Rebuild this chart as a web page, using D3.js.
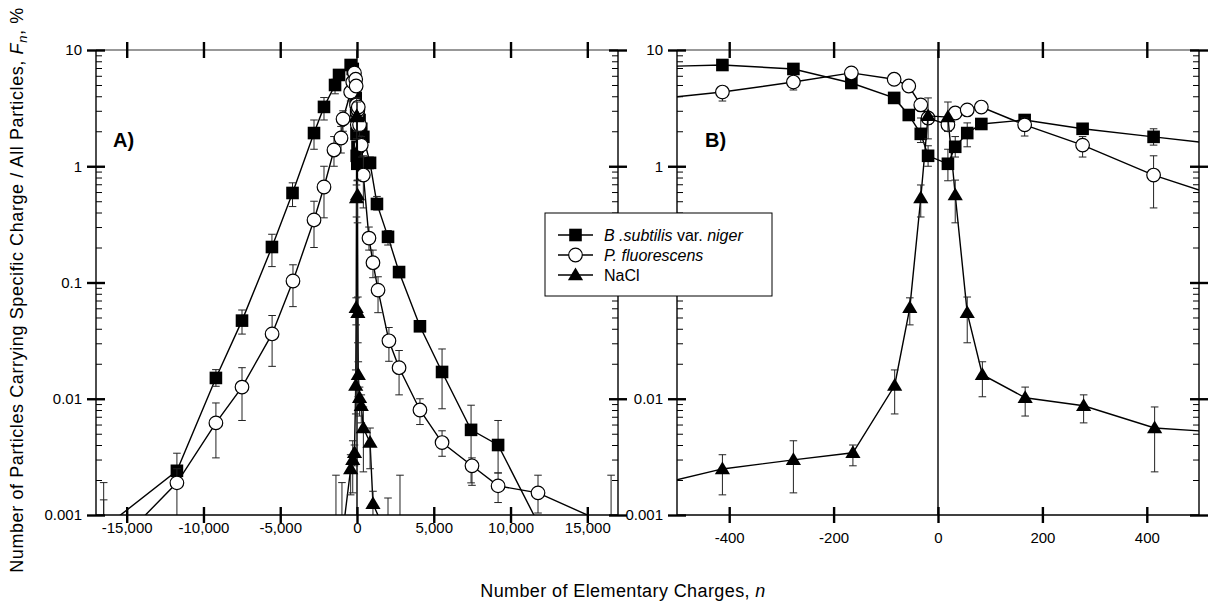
<!DOCTYPE html>
<html><head><meta charset="utf-8">
<script src="https://cdn.jsdelivr.net/npm/d3@7"></script>
<style>
body{margin:0;background:#fff}
svg{display:block}
text{font-family:"Liberation Sans",Arial,Helvetica,sans-serif;fill:#000}
</style>
</head><body>
<svg id="c" width="1211" height="605"></svg>
<script>
// ---------- data (n = number of elementary charges, F = % of particles) ----------
const bsN  = [-16500,-11730,-9190,-7490,-5540,-4200,-2800,-2150,-1430,-1170,-413,-277,-166,-84,-56,-33,-19,19,33,56,83,166,277,413,850,1300,2020,2740,4100,5540,7430,9190,16550];
const bsF  = [0.00077,0.0024,0.0151,0.047,0.202,0.589,1.93,3.24,5.0,6.1,7.43,6.87,5.2,3.87,2.76,1.90,1.23,1.05,1.47,1.93,2.31,2.50,2.10,1.79,1.07,0.474,0.247,0.123,0.042,0.017,0.0054,0.0040,0.00005];
const bsLo = [0.0001,0.0017,0.0128,0.036,0.137,0.45,1.40,2.5,4.2,5.5,7.0,6.3,4.9,3.5,2.5,1.6,1.0,0.75,1.2,1.47,2.1,2.3,1.9,1.52,0.95,0.42,0.21,0.11,0.038,0.0082,0.00189,0.0023,0.00001];
const bsHi = [0.0019,0.0034,0.0178,0.058,0.26,0.72,2.5,3.9,5.6,6.6,7.9,7.3,5.6,4.2,3.0,2.6,1.5,1.4,1.8,2.36,2.5,2.6,2.3,2.1,1.2,0.55,0.28,0.135,0.046,0.0268,0.0088,0.0065,0.00003];

const pfN  = [-16500,-11730,-9190,-7490,-5530,-4170,-2800,-2150,-1500,-1040,-910,-413,-277,-166,-84,-56,-33,-19,19,33,56,83,166,277,413,780,1040,1370,2080,2740,4100,5540,7490,9190,11790,16550];
const pfF  = [0.00043,0.00189,0.0062,0.0126,0.0361,0.103,0.345,0.663,1.38,1.75,2.55,4.35,5.3,6.35,5.6,4.9,3.37,2.6,2.27,2.87,3.05,3.23,2.27,1.52,0.84,0.241,0.148,0.086,0.0315,0.0185,0.0080,0.0042,0.00265,0.00178,0.00155,0.00081];
const pfLo = [0.0001,0.0009,0.0031,0.0065,0.019,0.062,0.2,0.36,1.0,1.3,2.0,3.64,4.53,6.0,5.2,4.5,3.0,2.3,2.0,2.6,2.8,3.0,1.82,1.2,0.438,0.19,0.11,0.055,0.021,0.0108,0.006,0.0032,0.0018,0.00128,0.00104,0.0001];
const pfHi = [0.00135,0.0025,0.0092,0.0185,0.052,0.142,0.5,1.0,1.8,2.2,3.0,4.7,5.8,6.7,6.0,5.3,3.7,2.9,2.5,3.1,3.3,3.45,2.6,1.8,1.23,0.3,0.19,0.112,0.041,0.026,0.010,0.0053,0.0031,0.0023,0.0022,0.0022];

const naN  = [-1370,-980,-413,-277,-163,-83,-54,-33,-19,19,33,56,85,167,279,415,850,1040,2020,2800];
const naF  = [0.0002,0.00062,0.00249,0.00298,0.00343,0.0130,0.0605,0.533,2.71,2.65,0.566,0.0548,0.0161,0.0102,0.0087,0.0056,0.0042,0.00125,0.00063,0.0003];
const naLo = [0.00005,0.0002,0.00149,0.00155,0.00265,0.0074,0.0432,0.366,1.72,2.0,0.326,0.0303,0.0104,0.0071,0.0062,0.00235,0.0025,0.0009,0.0002,0.0001];
const naHi = [0.0022,0.0019,0.0033,0.00435,0.0040,0.0177,0.0738,0.69,3.87,3.57,0.76,0.075,0.0208,0.0126,0.0108,0.0085,0.0056,0.0016,0.0014,0.0022];

const xDomainA = [-17000, 17000];
const xDomainB = [-500, 500];
const xTicksA = [-15000,-10000,-5000,0,5000,10000,15000];
const xTicksB = [-400,-200,0,200,400];
const yTicks = [10,1,0.1,0.01,0.001];
const yTickLabels = ["10","1","0.1","0.01","0.001"];
const yMinorMantissa = [2,3,4,5,6,7,8,9];
const seriesNames = ["B .subtilis var. niger","P. fluorescens","NaCl"];

// ---------- chart ----------
const svg = d3.select("#c");
const TOP = 50, BOT = 515;
const yS = d3.scaleLog().domain([0.001,10]).range([BOT,TOP]);
const fmt = d3.formatLocale({decimal:".",thousands:",",grouping:[3],currency:["$",""],minus:"-"}).format(",");

const minorVals = [];
for (let e=-3;e<1;e++) yMinorMantissa.forEach(m=>minorVals.push(m*Math.pow(10,e)));

const panels = [
  {id:"A", x:d3.scaleLinear().domain(xDomainA).range([96,618]), ticks:xTicksA, lblY:18, label:"A)", lx:113},
  {id:"B", x:d3.scaleLinear().domain(xDomainB).range([677,1199]), ticks:xTicksB, lblY:28, label:"B)", lx:705}
];
const series = [
  {n:bsN,f:bsF,lo:bsLo,hi:bsHi,shape:"square"},
  {n:pfN,f:pfF,lo:pfLo,hi:pfHi,shape:"circle"},
  {n:naN,f:naF,lo:naLo,hi:naHi,shape:"triangle"}
];

function marker(g, shape, cx, cy){
  if (shape==="square") g.append("rect").attr("x",cx-6.3).attr("y",cy-6.3).attr("width",12.6).attr("height",12.6).attr("fill","#000");
  else if (shape==="circle") g.append("circle").attr("cx",cx).attr("cy",cy).attr("r",6.8).attr("fill","#fff").attr("stroke","#000").attr("stroke-width",1.2);
  else g.append("path").attr("d",`M${cx},${cy-7.5}L${cx+7.6},${cy+5.2}L${cx-7.6},${cy+5.2}Z`).attr("fill","#000");
}

panels.forEach(p=>{
  const [x0,x1] = p.x.range();
  const clipId = "clip"+p.id;
  svg.append("clipPath").attr("id",clipId).append("rect").attr("x",x0).attr("y",TOP).attr("width",x1-x0).attr("height",BOT-TOP);
  const g = svg.append("g").attr("clip-path",`url(#${clipId})`);
  // zero line
  g.append("line").attr("x1",p.x(0)).attr("x2",p.x(0)).attr("y1",TOP).attr("y2",BOT).attr("stroke","#000").attr("stroke-width",1.4);
  series.forEach(s=>{
    const idx = d3.range(s.n.length);
    g.append("path").datum(idx)
      .attr("d", d3.line().x(i=>p.x(s.n[i])).y(i=>yS(s.f[i])))
      .attr("fill","none").attr("stroke","#000").attr("stroke-width",1.4);
    idx.forEach(i=>{
      const cx = p.x(s.n[i]);
      const ylo = yS(s.lo[i]), yhi = yS(s.hi[i]);
      g.append("line").attr("x1",cx).attr("x2",cx).attr("y1",ylo).attr("y2",yhi).attr("stroke","#222").attr("stroke-width",1);
      [ylo,yhi].forEach(yy=>g.append("line").attr("x1",cx-3.8).attr("x2",cx+3.8).attr("y1",yy).attr("y2",yy).attr("stroke","#222").attr("stroke-width",1));
    });
    idx.forEach(i=>marker(g, s.shape, p.x(s.n[i]), yS(s.f[i])));
  });

  // frame
  svg.append("line").attr("x1",x0).attr("x2",x1).attr("y1",TOP).attr("y2",TOP).attr("stroke","#333").attr("stroke-width",1.1);
  svg.append("line").attr("x1",x0).attr("x2",x1).attr("y1",BOT).attr("y2",BOT).attr("stroke","#000").attr("stroke-width",1.4);
  svg.append("line").attr("x1",x0).attr("x2",x0).attr("y1",TOP).attr("y2",BOT).attr("stroke","#000").attr("stroke-width",1.4);
  svg.append("line").attr("x1",x1).attr("x2",x1).attr("y1",TOP).attr("y2",BOT).attr("stroke","#000").attr("stroke-width",1.4);

  // bottom axis
  const gb = svg.append("g").attr("transform",`translate(0,${BOT})`)
    .call(d3.axisBottom(p.x).tickValues(p.ticks).tickFormat(fmt).tickSize(8).tickSizeOuter(0));
  gb.select(".domain").remove();
  gb.selectAll(".tick line").attr("y1",-8).attr("y2",8).attr("stroke","#000").attr("stroke-width",2.4);
  gb.selectAll("text").attr("dy",null).attr("y",p.lblY).attr("font-size",15).attr("font-family",null);
  // top axis
  const gt = svg.append("g").attr("transform",`translate(0,${TOP})`)
    .call(d3.axisTop(p.x).tickValues(p.ticks).tickFormat("").tickSize(8).tickSizeOuter(0));
  gt.select(".domain").remove();
  gt.selectAll(".tick line").attr("y1",-8).attr("y2",8).attr("stroke","#000").attr("stroke-width",2.4);

  // left axis with labels
  const gl = svg.append("g").attr("transform",`translate(${x0},0)`)
    .call(d3.axisLeft(yS).tickValues(yTicks).tickFormat((d,i)=>yTickLabels[i]).tickSize(9).tickPadding(5).tickSizeOuter(0));
  gl.select(".domain").remove();
  gl.selectAll(".tick line").attr("x1",9).attr("x2",-9).attr("stroke","#000").attr("stroke-width",2.4);
  gl.selectAll("text").attr("font-size",15).attr("font-family",null);
  const glm = svg.append("g").attr("transform",`translate(${x0},0)`)
    .call(d3.axisRight(yS).tickValues(minorVals).tickFormat("").tickSize(6).tickSizeOuter(0));
  glm.select(".domain").remove();
  glm.selectAll(".tick line").attr("stroke","#000").attr("stroke-width",1);
  // right axis
  const gr = svg.append("g").attr("transform",`translate(${x1},0)`)
    .call(d3.axisRight(yS).tickValues(yTicks).tickFormat("").tickSize(9).tickSizeOuter(0));
  gr.select(".domain").remove();
  gr.selectAll(".tick line").attr("x1",-9).attr("x2",9).attr("stroke","#000").attr("stroke-width",2.4);
  const grm = svg.append("g").attr("transform",`translate(${x1},0)`)
    .call(d3.axisLeft(yS).tickValues(minorVals).tickFormat("").tickSize(6).tickSizeOuter(0));
  grm.select(".domain").remove();
  grm.selectAll(".tick line").attr("stroke","#000").attr("stroke-width",1);

  svg.append("text").attr("x",p.lx).attr("y",147).attr("font-size",20).attr("font-weight","bold").text(p.label);
});

// axis titles
const yt = svg.append("text").attr("transform","translate(23,290) rotate(-90)").attr("text-anchor","middle")
  .attr("font-size",18).attr("letter-spacing",0.6).style("white-space","pre");
yt.append("tspan").text("Number of Particles Carrying Specific Charge / All Particles, ");
yt.append("tspan").attr("font-style","italic").text("F");
yt.append("tspan").attr("font-style","italic").attr("font-size",13).attr("dy",4).text("n");
yt.append("tspan").attr("dy",-4).text(", %");

const xt = svg.append("text").attr("x",623).attr("y",597).attr("text-anchor","middle")
  .attr("font-size",18).attr("letter-spacing",0.4).style("white-space","pre");
xt.append("tspan").text("Number of Elementary Charges, ");
xt.append("tspan").attr("font-style","italic").text("n");

// legend
const lg = svg.append("g").attr("transform","translate(545,213)");
lg.append("rect").attr("width",227).attr("height",83).attr("fill","#fff").attr("stroke","#000").attr("stroke-width",1);
const rowY = [22,42,62];
series.forEach((s,i)=>{
  lg.append("line").attr("x1",13).attr("x2",48).attr("y1",rowY[i]).attr("y2",rowY[i]).attr("stroke","#000").attr("stroke-width",1.4);
  marker(lg, s.shape, 30.5, rowY[i]);
  const t = lg.append("text").attr("x",59).attr("y",rowY[i]+5.5).attr("font-size",16).style("white-space","pre");
  if (i===0){
    t.append("tspan").attr("font-style","italic").text("B .subtilis");
    t.append("tspan").text(" var. ");
    t.append("tspan").attr("font-style","italic").text("niger");
  } else if (i===1){
    t.append("tspan").attr("font-style","italic").text(seriesNames[1]);
  } else t.text(seriesNames[2]);
});
</script>
</body></html>
